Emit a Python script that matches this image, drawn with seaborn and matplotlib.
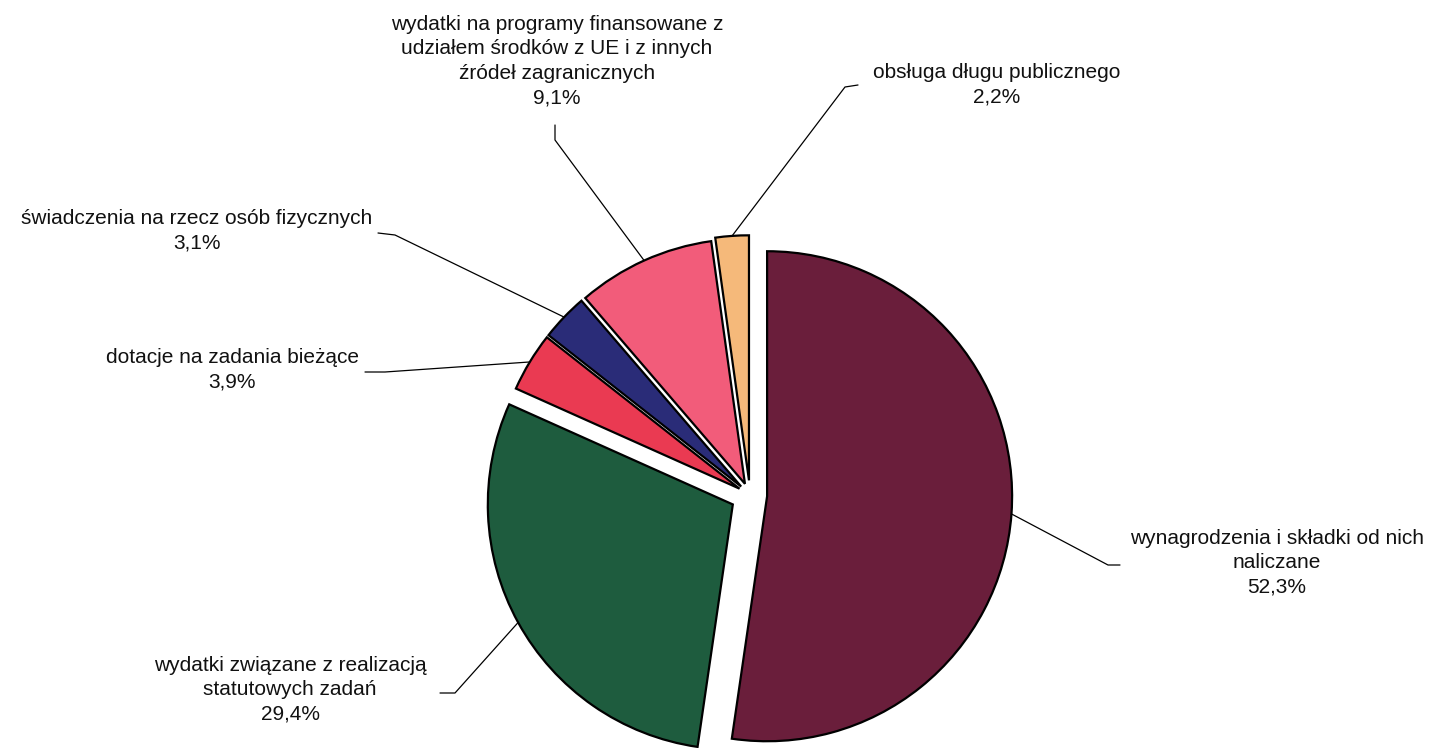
import numpy as np
import matplotlib
matplotlib.use("Agg")
import matplotlib.pyplot as plt
import seaborn as sns

# ==========================
# DADOS
# ==========================

categorias = [
    "wynagrodzenia i składki od nich\nnaliczane",
    "wydatki związane z realizacją\nstatutowych zadań",
    "dotacje na zadania bieżące",
    "świadczenia na rzecz osób fizycznych",
    "wydatki na programy finansowane z\nudziałem środków z UE i z innych\nźródeł zagranicznych",
    "obsługa długu publicznego",
]
udzial = [52.3, 29.4, 3.9, 3.1, 9.1, 2.2]
etykiety_proc = ["52,3%", "29,4%", "3,9%", "3,1%", "9,1%", "2,2%"]

kolory = ["#6a1e3b", "#1e5c3e", "#ea3a52", "#2a2c78", "#f25c7a", "#f5b97a"]
explode = [0.07, 0.08, 0.05, 0.05, 0.05, 0.06]

# ==========================
# LAYOUT (pixels)
# ==========================

W, H = 1430, 748
CX, CY, R = 750, 495, 245

# text centre, elbow start, elbow end (pixels)
texto_pos = [(1277, 563), (290, 690), (232, 370), (197, 231), (557, 61), (997, 85)]
cotovelo = [
    ((1120, 565), (1108, 565)),
    ((440, 693), (455, 693)),
    ((365, 372), (385, 372)),
    ((378, 233), (395, 235)),
    ((555, 125), (555, 140)),
    ((858, 85), (845, 87)),
]


def px(x, y):
    return (x - CX) / R, (CY - y) / R


sns.set_theme(style="white")
plt.rcParams["font.family"] = ["Liberation Sans", "DejaVu Sans"]

fig = plt.figure(figsize=(W / 100, H / 100), dpi=100)
ax = fig.add_axes([0, 0, 1, 1])

wedges, _ = ax.pie(
    udzial,
    colors=kolory,
    explode=explode,
    startangle=90,
    counterclock=False,
    radius=1,
    wedgeprops=dict(edgecolor="black", linewidth=1.6),
)

for w, nome, proc, tpos, (e1, e2) in zip(wedges, categorias, etykiety_proc, texto_pos, cotovelo):
    ang = np.deg2rad((w.theta1 + w.theta2) / 2)
    cx, cy = w.center
    ponta = (cx + w.r * np.cos(ang), cy + w.r * np.sin(ang))
    a = px(*e1)
    b = px(*e2)
    ax.plot([a[0], b[0], ponta[0]], [a[1], b[1], ponta[1]], color="black", lw=0.9)
    tx, ty = px(*tpos)
    ax.text(tx, ty, nome + "\n" + proc, ha="center", va="center",
            fontsize=15, linespacing=1.36, color="#111111")

ax.set_xlim(-CX / R, (W - CX) / R)
ax.set_ylim(-(H - CY) / R, CY / R)
ax.set_aspect("equal")
ax.axis("off")

fig.savefig("out.png", dpi=100, facecolor="white")
